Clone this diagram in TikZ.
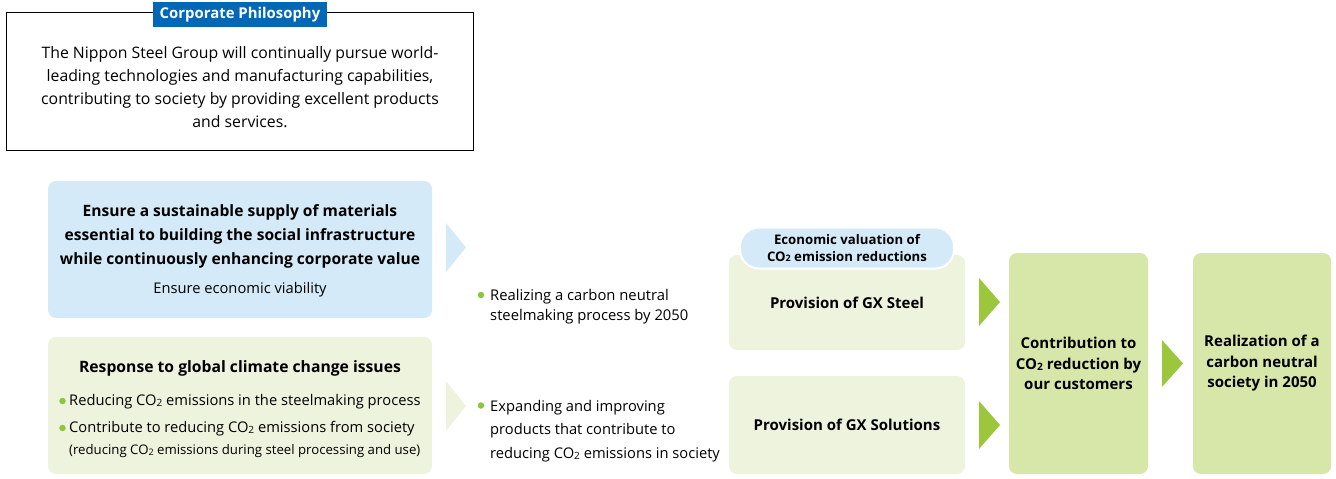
\documentclass[tikz,border=0pt]{standalone}
\usepackage{fontspec}
\usepackage{graphicx}
\setmainfont{Open Sans}
\definecolor{tabblue}{HTML}{0068B7}
\definecolor{lightblue}{HTML}{D4EAF8}
\definecolor{lightgreen}{HTML}{EEF3DE}
\definecolor{midgreen}{HTML}{D7E6A9}
\definecolor{arrowgreen}{HTML}{9CC63C}
\definecolor{dotgreen}{HTML}{8CC63F}
\newcommand\COtwo{CO\raisebox{-0.12ex}{\scalebox{0.68}{2}}}
\newcommand\fs[2]{\fontsize{#1}{#2}\selectfont}
\tikzset{
  panel/.style={rounded corners=8pt, inner sep=0pt, draw=none},
  txt/.style={inner sep=0pt, text=black},
  dot/.style={circle, fill=dotgreen, inner sep=0pt, minimum size=6.5pt},
}
\begin{document}
\begin{tikzpicture}[x=1pt,y=-1pt]
\useasboundingbox (0,0) rectangle (1336,479);
% Corporate philosophy
\node[draw=black, line width=1pt, minimum width=467pt, minimum height=138pt, inner sep=0pt] (philo) at (239.5,81) {};
\node[fill=tabblue, minimum width=174pt, minimum height=25pt, inner sep=0pt, text=white, font=\fs{14.9}{17}\bfseries] (tab) at (240,14.5) {Corporate Philosophy};
\node[txt, align=center, font=\fs{15.8}{23}] (philotxt) at (240,87) {The Nippon Steel Group will continually pursue world-\\leading technologies and manufacturing capabilities,\\contributing to society by providing excellent products\\and services.};

% Left panels
\node[panel, fill=lightblue, minimum width=384pt, minimum height=137pt] (blue) at (240,249.5) {};
\node[txt, align=center, font=\fs{15.6}{24}\bfseries] (bluetxt) at (240,236) {Ensure a sustainable supply of materials\\essential to building the social infrastructure\\while continuously enhancing corporate value};
\node[txt, font=\fs{14.7}{16}] (bluesub) at (240,290) {Ensure economic viability};

\node[panel, fill=lightgreen, minimum width=384pt, minimum height=137pt] (green) at (240,405.5) {};
\node[txt, font=\fs{15.7}{18}\bfseries] (greentitle) at (240,368) {Response to global climate change issues};
\node[dot] (d1) at (62.5,401) {};
\node[txt, anchor=west, font=\fs{14.7}{17}] (g1) at (69,402) {Reducing \COtwo{} emissions in the steelmaking process};
\node[dot] (d2) at (62.5,428) {};
\node[txt, anchor=west, font=\fs{14.7}{17}] (g2) at (69,429) {Contribute to reducing \COtwo{} emissions from society};
\node[txt, anchor=west, font=\fs{13.2}{14}] (g3) at (69,451) {(reducing \COtwo{} emissions during steel processing and use)};

% chevrons from left panels
\coordinate (c1) at (446,223);
\fill[lightblue] (c1) -- ++(20,24.5) -- ++(-20,24.5) -- cycle;
\coordinate (c2) at (446,381);
\fill[lightgreen] (c2) -- ++(20,25) -- ++(-20,25) -- cycle;

% middle texts
\node[dot] (d3) at (481,295) {};
\node[txt, anchor=west, align=left, font=\fs{14.8}{20}] (m1) at (490,307) {Realizing a carbon neutral\\steelmaking process by 2050};
\node[dot] (d4) at (481,405.5) {};
\node[txt, anchor=west, align=left, font=\fs{14.7}{23.5}] (m2) at (490,431) {Expanding and improving\\products that contribute to\\reducing \COtwo{} emissions in society};

% GX boxes
\node[panel, fill=lightgreen, minimum width=236pt, minimum height=95pt] (gxsteel) at (847,302.5) {};
\node[txt, font=\fs{15}{17}\bfseries] at (gxsteel.center) {Provision of GX Steel};
\node[fill=lightblue, draw=white, line width=2pt, rounded corners=19pt, minimum width=214pt, minimum height=41pt, inner sep=0pt, align=center, font=\fs{13.2}{17}\bfseries] (econ) at (847,248) {Economic valuation of\\\COtwo{} emission reductions};
\node[panel, fill=lightgreen, minimum width=236pt, minimum height=98pt] (gxsol) at (847,425) {};
\node[txt, font=\fs{15}{17}\bfseries] at (gxsol.center) {Provision of GX Solutions};

% green arrows
\coordinate (a1) at (979,278);
\fill[arrowgreen] (a1) -- ++(21,24) -- ++(-21,24) -- cycle;
\coordinate (a2) at (979,401);
\fill[arrowgreen] (a2) -- ++(21,24) -- ++(-21,24) -- cycle;

% right boxes
\node[panel, fill=midgreen, minimum width=139pt, minimum height=221pt] (contrib) at (1078.5,363.5) {};
\node[txt, align=center, font=\fs{15}{20.5}\bfseries] at (contrib.center) {Contribution to\\\COtwo{} reduction by\\our customers};
\coordinate (a3) at (1162,340);
\fill[arrowgreen] (a3) -- ++(21,23.5) -- ++(-21,23.5) -- cycle;
\node[panel, fill=midgreen, minimum width=138pt, minimum height=221pt] (realiz) at (1262,363.5) {};
\node[txt, align=center, font=\fs{15}{20.5}\bfseries] at (realiz.center) {Realization of a\\carbon neutral\\society in 2050};
\end{tikzpicture}
\end{document}
